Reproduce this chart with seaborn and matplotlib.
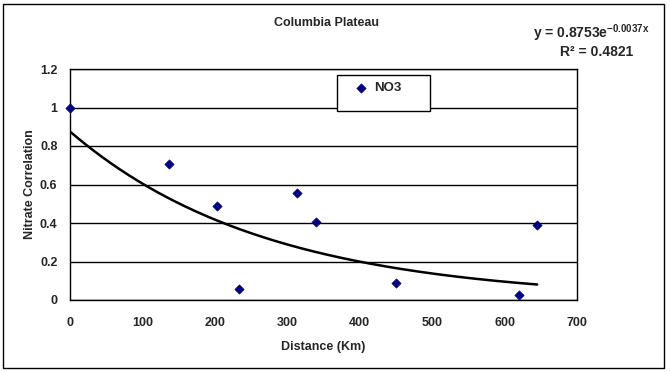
import numpy as np
import pandas as pd
import matplotlib
matplotlib.use("Agg")
import matplotlib.pyplot as plt
from matplotlib.patches import Rectangle
import seaborn as sns

# ---- data ----
distance_km = [0, 136, 203, 233, 314, 339, 450, 620, 645]
nitrate_corr = [1.0, 0.705, 0.486, 0.055, 0.558, 0.403, 0.088, 0.028, 0.391]
trend_coef = 0.8753
trend_rate = -0.0037
r_squared = 0.4821
x_ticks = [0, 100, 200, 300, 400, 500, 600, 700]
y_ticks = [0, 0.2, 0.4, 0.6, 0.8, 1.0, 1.2]
y_tick_labels = ["0", "0.2", "0.4", "0.6", "0.8", "1", "1.2"]
series_name = "NO3"

sns.set_theme(style="white")
plt.rcParams['font.family'] = ['Liberation Sans', 'DejaVu Sans']
plt.rcParams['mathtext.fontset'] = 'custom'
plt.rcParams['mathtext.rm'] = 'Liberation Sans'

W, H = 670, 372
fig = plt.figure(figsize=(W / 100, H / 100), dpi=100)
fig.patch.set_facecolor('white')

# outer chart border
fig.patches.append(Rectangle((3 / W, 4 / H), (664 - 3) / W, (368 - 4) / H,
                             transform=fig.transFigure, fill=False,
                             edgecolor='black', linewidth=1))

L, R, T, B = 70, 577, 69, 300
ax = fig.add_axes([L / W, 1 - B / H, (R - L) / W, (B - T) / H])
ax.set_facecolor('white')

df = pd.DataFrame({"Distance (Km)": distance_km, "Nitrate Correlation": nitrate_corr})
xs = np.linspace(0, max(distance_km), 300)
trend = pd.DataFrame({"x": xs, "y": trend_coef * np.exp(trend_rate * xs)})

sns.lineplot(data=trend, x="x", y="y", color="black", linewidth=1.8, ax=ax,
             legend=False, zorder=3)
sns.scatterplot(data=df, x="Distance (Km)", y="Nitrate Correlation", marker="D",
                s=22, color="#000080", edgecolor="#000080", linewidth=0.5,
                label=series_name, ax=ax, zorder=4, clip_on=False)

ax.set_xlim(0, 700)
ax.set_ylim(0, 1.2)
ax.set_xticks(x_ticks)
ax.set_xticklabels([str(v) for v in x_ticks])
ax.set_yticks(y_ticks)
ax.set_yticklabels(y_tick_labels)
ax.grid(axis='y', color='black', linewidth=1)
ax.grid(axis='x', visible=False)
ax.set_axisbelow(True)
for s in ax.spines.values():
    s.set_color('black')
    s.set_linewidth(1)
    s.set_visible(True)
ax.tick_params(axis='both', direction='out', length=5, width=1, color='black',
               labelsize=9, pad=4)
ax.tick_params(axis='x', pad=7)
for lab in ax.get_xticklabels() + ax.get_yticklabels():
    lab.set_fontweight('bold')

ax.set_xlabel("Distance (Km)", fontsize=9, fontweight='bold', labelpad=9)
ax.set_ylabel("Nitrate Correlation", fontsize=9, fontweight='bold', labelpad=3)

# legend box
ax.add_patch(Rectangle(((337 - L) / (R - L), (B - 111) / (B - T)),
                       (430 - 337) / (R - L), (111 - 75) / (B - T),
                       transform=ax.transAxes, facecolor='white',
                       edgecolor='black', linewidth=1, zorder=5))
leg = ax.legend(loc='center left',
                bbox_to_anchor=((354 - L) / (R - L), (B - 88) / (B - T)),
                frameon=False, fontsize=9.5, handletextpad=0.5,
                handlelength=1.0, borderpad=0, borderaxespad=0)
leg.set_zorder(6)
for t in leg.get_texts():
    t.set_fontweight('bold')

fig.text(326 / W, 1 - 23 / H, "Columbia Plateau", ha='center', va='center',
         fontsize=9, fontweight='bold')
fig.text(591 / W, 1 - 33 / H,
         r"y = %.4fe$^{\mathregular{%.4fx}}$" % (trend_coef, trend_rate),
         ha='center', va='center', fontsize=10, fontweight='bold')
fig.text(597 / W, 1 - 52 / H, "R\u00b2 = %.4f" % r_squared, ha='center',
         va='center', fontsize=10, fontweight='bold')

fig.savefig("out.png", dpi=100)
